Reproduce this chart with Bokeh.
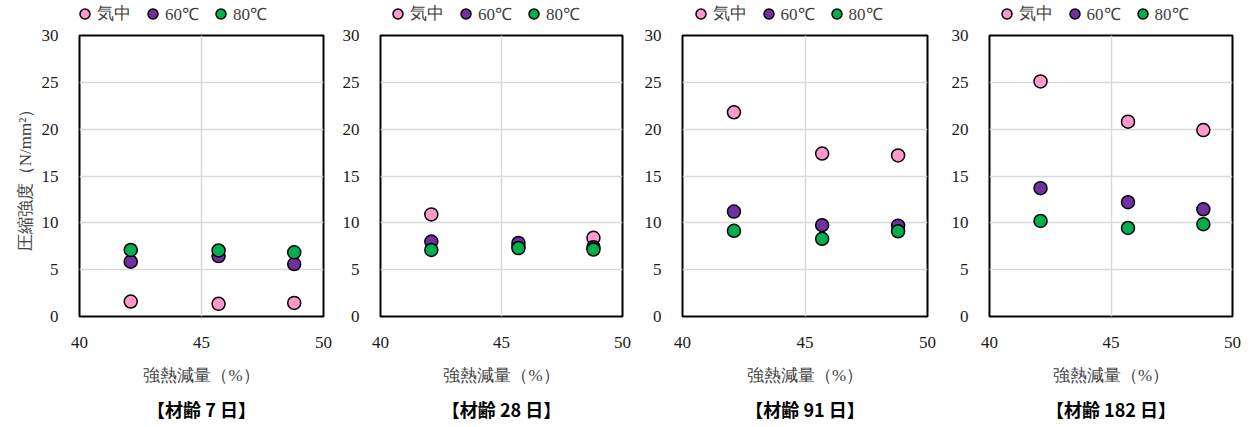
from bokeh.plotting import figure
from bokeh.layouts import row, column
from bokeh.models import FixedTicker, Title, Legend, LegendItem, Range1d
from bokeh.embed import file_html
from bokeh.resources import INLINE

# ---- data ----
loss = [42.1, 45.7, 48.8]                      # 強熱減量 (%)
ages = ["【材齢 7 日】", "【材齢 28 日】", "【材齢 91 日】", "【材齢 182 日】"]
series_names = ["気中", "60℃", "80℃"]
air = [[1.6, 1.35, 1.45], [10.9, 7.5, 8.4], [21.8, 17.4, 17.2], [25.1, 20.8, 19.9]]
c60 = [[5.85, 6.45, 5.6], [8.0, 7.85, 7.4], [11.2, 9.75, 9.7], [13.7, 12.2, 11.45]]
c80 = [[7.1, 7.05, 6.85], [7.1, 7.3, 7.15], [9.15, 8.3, 9.1], [10.2, 9.45, 9.85]]
x_ticks = [40, 45, 50]
y_ticks = [0, 5, 10, 15, 20, 25, 30]

colors = ["#FF99CC", "#7030A0", "#00B050"]
FONT = "Liberation Serif"
left_b = [79, 47, 50, 52]
frame_w = [244, 242, 245, 243]
leg_x = [-7, 5, 5.5, 4.5]
STRIP_H = 26
MAIN_TOP = 9
FRAME_H = 283
MAIN_H = 427 - STRIP_H

cols = []
for i in range(4):
    fw = left_b[i] + frame_w[i] + 10
    series = (air[i], c60[i], c80[i])
    # --- legend strip (its own small figure above the panel; its marks fall outside its range) ---
    lf = figure(output_backend="svg", toolbar_location=None, width=fw, height=STRIP_H,
                x_axis_type=None, y_axis_type=None, min_border=0,
                min_border_left=left_b[i], min_border_right=10,
                x_range=Range1d(0, 1), y_range=Range1d(0, 1),
                background_fill_color="white", border_fill_color="white")
    lf.outline_line_color = None
    lf.grid.visible = False
    lrends = [lf.scatter(loss, vals, size=13, fill_color=c, line_color="black", line_width=1.5)
              for vals, c in zip(series, colors)]
    legend = Legend(items=[LegendItem(label=n, renderers=[r]) for n, r in zip(series_names, lrends)],
                    orientation="horizontal", location=(leg_x[i], 0.5),
                    label_text_font=FONT, label_text_font_size="17px",
                    label_text_color="#404040", glyph_width=25, glyph_height=25,
                    label_standoff=-1, spacing=9, padding=0, margin=0,
                    border_line_color=None, background_fill_alpha=0)
    lf.add_layout(legend)

    # --- main panel ---
    p = figure(output_backend="svg", toolbar_location=None,
               width=fw, height=MAIN_H,
               min_border_left=left_b[i], min_border_right=10,
               min_border_top=MAIN_TOP, min_border_bottom=MAIN_H - FRAME_H - MAIN_TOP,
               x_range=Range1d(40, 50), y_range=Range1d(0, 30),
               background_fill_color="white", border_fill_color="white")
    p.outline_line_color = "black"
    p.outline_line_width = 2
    for ax, ticks in ((p.xaxis, x_ticks), (p.yaxis, y_ticks)):
        ax.ticker = FixedTicker(ticks=ticks)
        ax.major_tick_line_color = None
        ax.minor_tick_line_color = None
        ax.axis_line_color = None
        ax.major_label_text_font = FONT
        ax.major_label_text_font_size = "17px"
        ax.major_label_text_color = "#1a1a1a"
        ax.axis_label_text_font = FONT
        ax.axis_label_text_font_size = "17px"
        ax.axis_label_text_font_style = "normal"
        ax.axis_label_text_color = "#404040"
    p.xaxis.major_label_standoff = 14
    p.yaxis.major_label_standoff = 15
    p.xaxis.axis_label = "強熱減量（%）"
    p.xaxis.axis_label_standoff = 15
    if i == 0:
        p.yaxis.axis_label = "圧縮強度（N/mm²）"
        p.yaxis.axis_label_standoff = 4
    p.grid.grid_line_color = "#D9D9D9"
    p.grid.grid_line_width = 1.5

    for vals, col in zip(series, colors):
        p.scatter(loss, vals, size=13, fill_color=col,
                  line_color="black", line_width=1.5)

    t = Title(text=ages[i], align="center", text_font="Noto Sans CJK JP",
              text_font_size="18px", text_font_style="bold", text_color="black",
              standoff=12)
    p.add_layout(t, "below")
    cols.append(column(lf, p))

layout = row(*cols)
open("out.html", "w").write(file_html(layout, INLINE))
